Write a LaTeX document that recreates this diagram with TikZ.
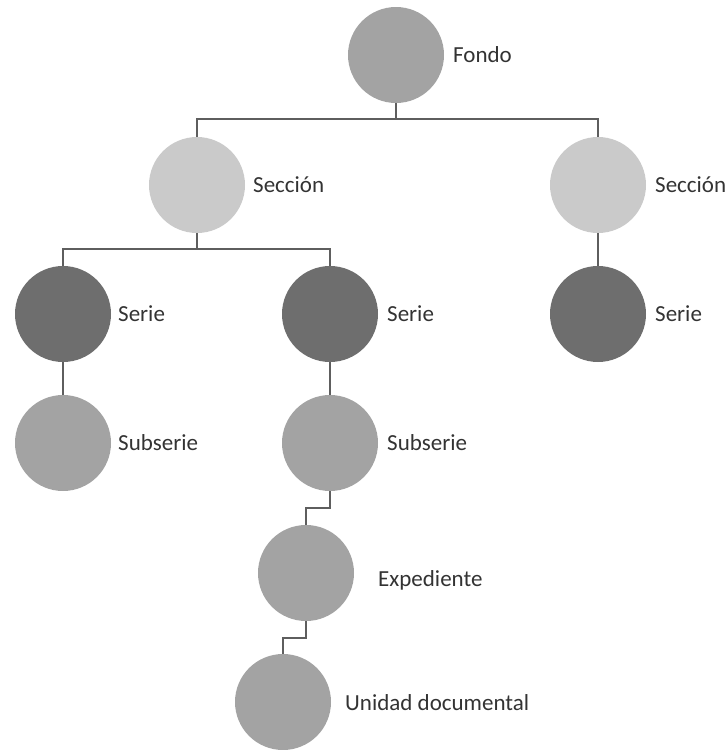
\documentclass[tikz,border=0pt]{standalone}
\usepackage{fontspec}
\setmainfont{Carlito}
\definecolor{cmid}{HTML}{A3A3A3}
\definecolor{clight}{HTML}{CACACA}
\definecolor{cdark}{HTML}{6E6E6E}
\definecolor{cline}{HTML}{5E5E5E}
\definecolor{ctext}{HTML}{333333}
\begin{document}
\begin{tikzpicture}[x=1pt,y=-1pt,
  disc/.style={circle,minimum size=96pt,inner sep=0pt,draw=none},
  lbl/.style={anchor=west,inner sep=0pt,text=ctext,font=\fontsize{23}{26}\selectfont},
  conn/.style={draw=cline,line width=1.3pt}]
\useasboundingbox (0,0) rectangle (728,750);
\node[disc,fill=cmid] (fondo) at (396,55) {};
\node[disc,fill=clight] (secL) at (197,185) {};
\node[disc,fill=clight] (secR) at (598,185) {};
\node[disc,fill=cdark] (serL) at (63,314) {};
\node[disc,fill=cdark] (serM) at (330,314) {};
\node[disc,fill=cdark] (serR) at (598,314) {};
\node[disc,fill=cmid] (subL) at (63,443) {};
\node[disc,fill=cmid] (subM) at (330,443) {};
\node[disc,fill=cmid] (exp) at (306,573) {};
\node[disc,fill=cmid] (uni) at (283,702) {};
\node[lbl] (tfondo) at (453,55) {Fondo};
\node[lbl] (tsecL) at (253,185) {Sección};
\node[lbl] (tsecR) at (655,185) {Sección};
\node[lbl] (tserL) at (118,314) {Serie};
\node[lbl] (tserM) at (387,314) {Serie};
\node[lbl] (tserR) at (655,314) {Serie};
\node[lbl] (tsubL) at (118,443) {Subserie};
\node[lbl] (tsubM) at (387,443) {Subserie};
\node[lbl] (texp) at (378,580) {Expediente};
\node[lbl] (tuni) at (345,703) {Unidad documental};
\coordinate (b1) at (396,119);
\coordinate (b2) at (197,249);
\coordinate (c1) at (318,508);
\coordinate (c2) at (295,638);
\draw[conn] (fondo.south) -- (b1);
\draw[conn] (secL.north) |- (b1) -| (secR.north);
\draw[conn] (secL.south) -- (b2);
\draw[conn] (serL.north) |- (b2) -| (serM.north);
\draw[conn] (secR.south) -- (serR.north);
\draw[conn] (serL.south) -- (subL.north);
\draw[conn] (serM.south) -- (subM.north);
\draw[conn] (subM.south) |- (c1) -| (exp.north);
\draw[conn] (exp.south) |- (c2) -| (uni.north);
\end{tikzpicture}
\end{document}
